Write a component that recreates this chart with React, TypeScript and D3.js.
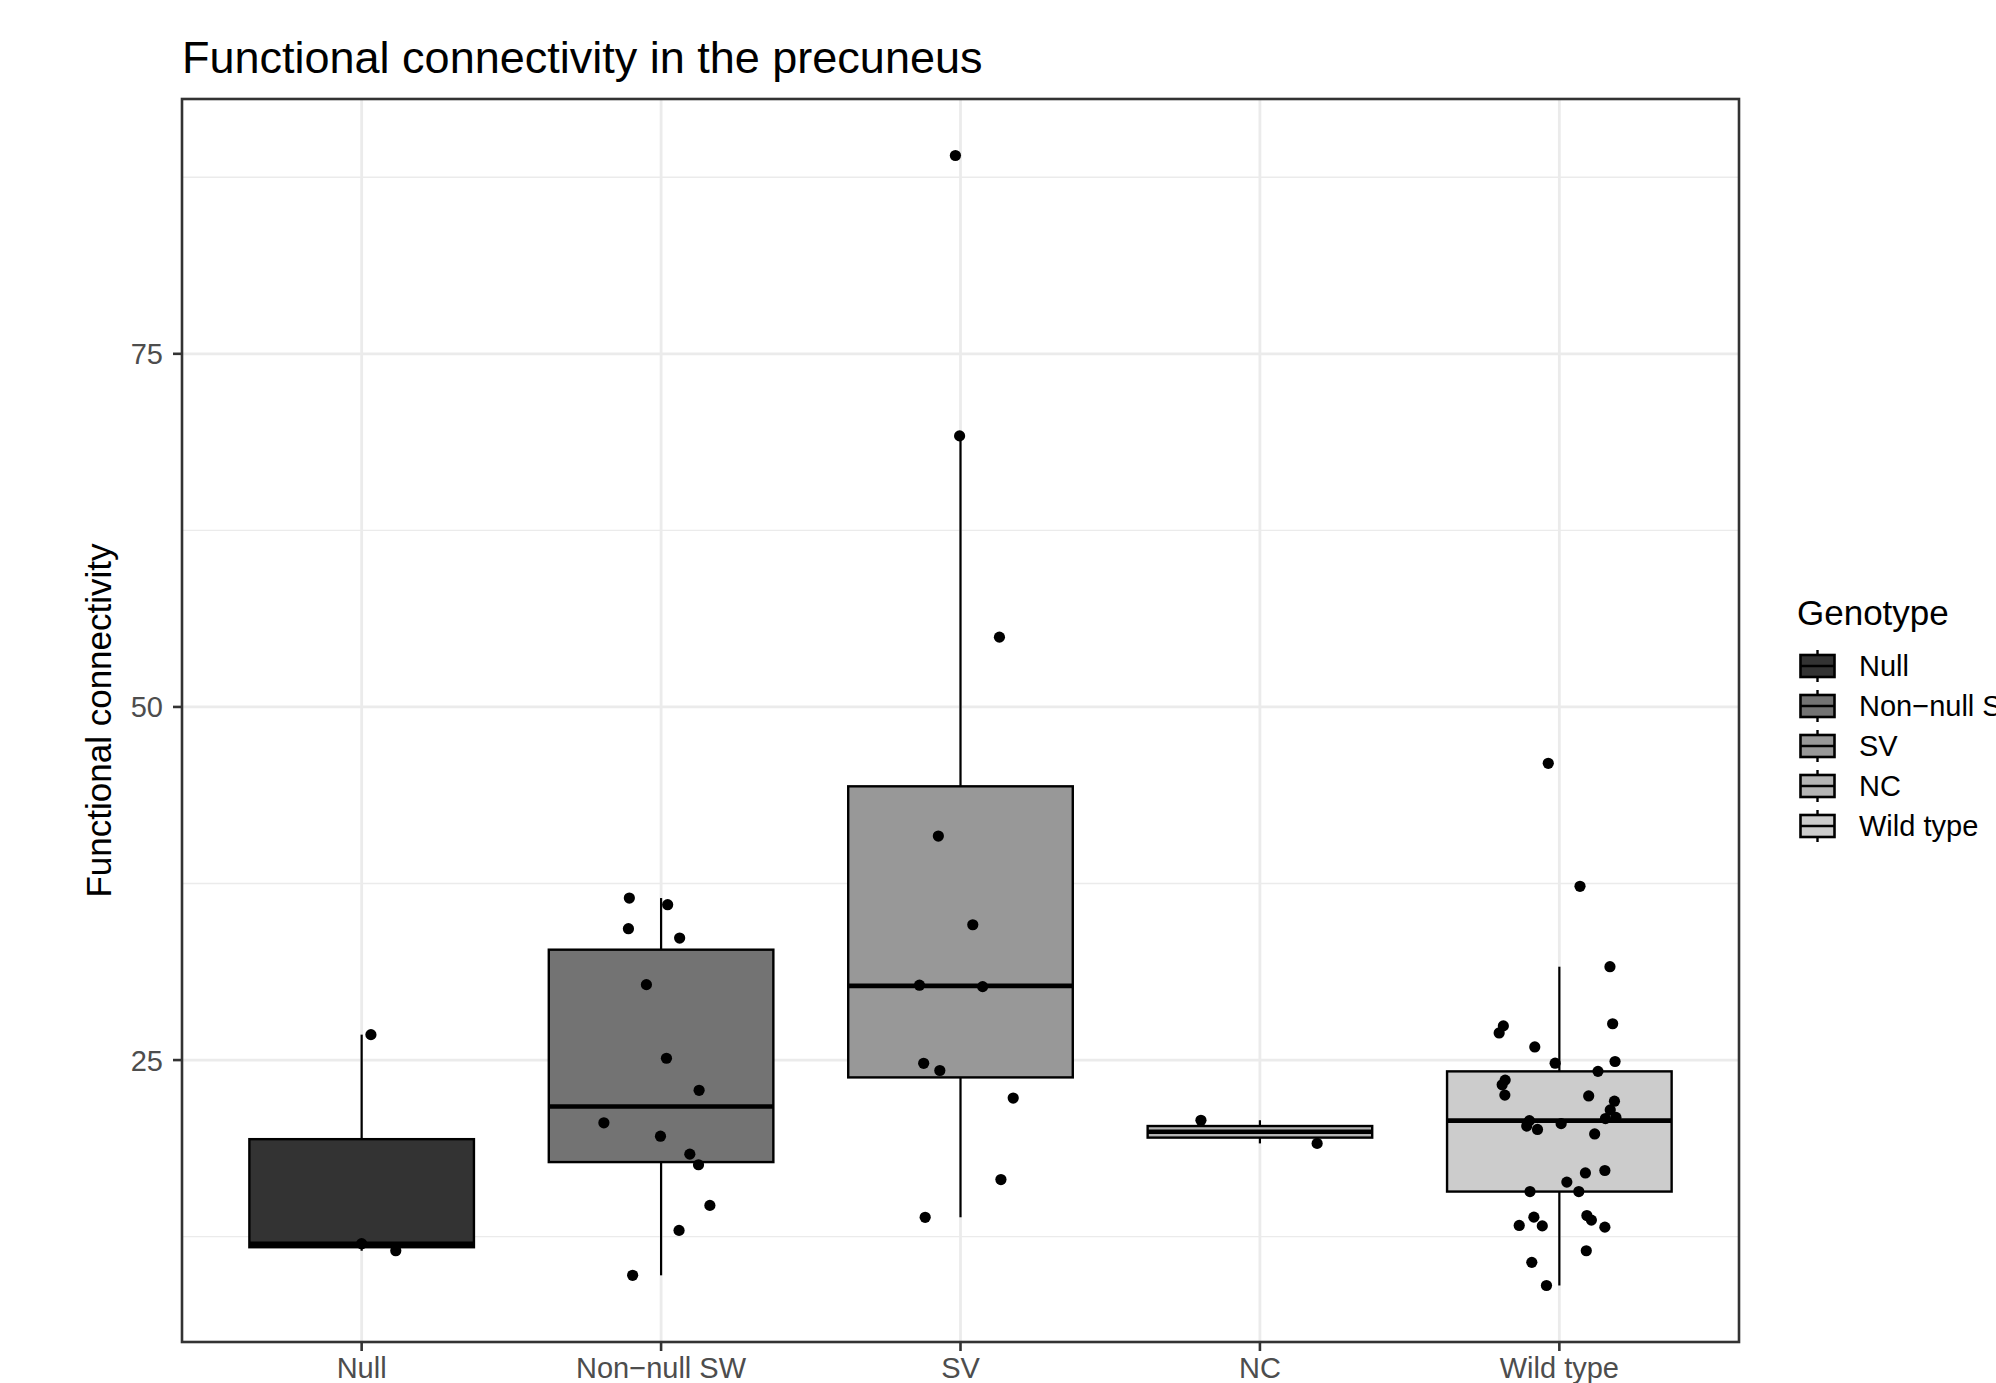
import React, {useEffect, useRef} from 'react';
import * as d3 from 'd3';

// categories and their grey fills (scale_fill_grey look)
const genotypes = ['Null', 'Non\u2212null SW', 'SV', 'NC', 'Wild type'];
const fills = ['#333333', '#737373', '#989898', '#B4B4B4', '#CCCCCC'];

// values; jitter is the horizontal offset in category units
const nullValues = [26.8, 12.0, 11.5];
const nullJitter = [0.031, 0.0, 0.114];

const nonNullValues = [36.47, 36.0, 34.3, 33.64, 30.34, 25.13, 22.86, 20.56, 19.61, 18.34, 17.59, 14.71, 12.94, 9.76];
const nonNullJitter = [-0.106, 0.022, -0.109, 0.062, -0.049, 0.018, 0.127, -0.191, -0.002, 0.096, 0.125, 0.163, 0.06, -0.095];

const svValues = [89.04, 69.19, 54.94, 40.86, 34.58, 30.3, 30.2, 24.77, 24.26, 22.31, 16.54, 13.87];
const svJitter = [-0.017, -0.003, 0.13, -0.074, 0.041, -0.137, 0.074, -0.123, -0.069, 0.176, 0.135, -0.118];

const ncValues = [20.74, 19.1];
const ncJitter = [-0.197, 0.191];

const wildValues = [46.01, 37.3, 31.61, 27.42, 26.92, 27.57, 25.93, 24.78, 24.9, 24.2, 23.58, 23.25, 22.52, 22.46,
	22.09, 21.47, 20.86, 20.94, 20.71, 20.33, 20.09, 20.5, 19.77, 17.18, 17.01, 16.36, 15.69, 15.69, 13.88, 13.99,
	13.67, 13.29, 13.26, 13.17, 11.5, 10.68, 9.04];
const wildJitter = [-0.037, 0.069, 0.169, -0.187, -0.201, 0.178, -0.082, -0.014, 0.186, 0.129, -0.181, -0.191, -0.182, 0.098,
	0.184, 0.17, 0.154, 0.189, -0.1, -0.109, -0.073, 0.006, 0.118, 0.152, 0.087, 0.025, -0.098, 0.065, -0.085, 0.092,
	0.107, -0.134, -0.057, 0.152, 0.09, -0.092, -0.043];

const seriesValues = [nullValues, nonNullValues, svValues, ncValues, wildValues];
const seriesJitter = [nullJitter, nonNullJitter, svJitter, ncJitter, wildJitter];

const majorTicks = [25, 50, 75];
const minorTicks = [12.5, 37.5, 62.5, 87.5];

const FONT = '"Liberation Sans", Arial, Helvetica, sans-serif';

function boxStats(values: number[]) {
	const s = values.slice().sort(d3.ascending);
	const q1 = d3.quantileSorted(s, 0.25)!;
	const med = d3.quantileSorted(s, 0.5)!;
	const q3 = d3.quantileSorted(s, 0.75)!;
	const iqr = q3 - q1;
	const inside = s.filter(v => v >= q1 - 1.5 * iqr && v <= q3 + 1.5 * iqr);
	return {q1, med, q3, lo: d3.min(inside)!, hi: d3.max(inside)!};
}

export default function App() {
	const svgRef = useRef<SVGSVGElement>(null);

	useEffect(() => {
		const svg = d3.select(svgRef.current);
		svg.selectAll('*').remove();

		const left = 182, right = 1739, top = 99, bottom = 1342;

		const all = seriesValues.flat();
		const [lo, hi] = d3.extent(all) as [number, number];
		const pad = (hi - lo) * 0.05; // ggplot default expansion
		const y = d3.scaleLinear().domain([lo - pad, hi + pad]).range([bottom, top]);
		const x = d3.scalePoint<string>().domain(genotypes).range([left, right]).padding(0.6);
		const step = x.step();
		const boxW = step * 0.75;

		// grid
		const grid = svg.append('g');
		grid.selectAll('line.minor').data(minorTicks).enter().append('line')
			.attr('x1', left).attr('x2', right)
			.attr('y1', d => y(d)).attr('y2', d => y(d))
			.attr('stroke', '#EBEBEB').attr('stroke-width', 1.4);
		grid.selectAll('line.majorY').data(majorTicks).enter().append('line')
			.attr('x1', left).attr('x2', right)
			.attr('y1', d => y(d)).attr('y2', d => y(d))
			.attr('stroke', '#EBEBEB').attr('stroke-width', 2.8);
		grid.selectAll('line.majorX').data(genotypes).enter().append('line')
			.attr('x1', d => x(d)!).attr('x2', d => x(d)!)
			.attr('y1', top).attr('y2', bottom)
			.attr('stroke', '#EBEBEB').attr('stroke-width', 2.8);

		// boxes
		const boxes = svg.append('g');
		genotypes.forEach((g, i) => {
			const st = boxStats(seriesValues[i]);
			const cx = x(g)!;
			const grp = boxes.append('g');
			grp.append('line').attr('x1', cx).attr('x2', cx).attr('y1', y(st.q3)).attr('y2', y(st.hi))
				.attr('stroke', '#000').attr('stroke-width', 2.2);
			grp.append('line').attr('x1', cx).attr('x2', cx).attr('y1', y(st.q1)).attr('y2', y(st.lo))
				.attr('stroke', '#000').attr('stroke-width', 2.2);
			grp.append('rect')
				.attr('x', cx - boxW / 2).attr('width', boxW)
				.attr('y', y(st.q3)).attr('height', y(st.q1) - y(st.q3))
				.attr('fill', fills[i]).attr('stroke', '#000').attr('stroke-width', 2.4);
			grp.append('line').attr('x1', cx - boxW / 2).attr('x2', cx + boxW / 2)
				.attr('y1', y(st.med)).attr('y2', y(st.med))
				.attr('stroke', '#000').attr('stroke-width', 4.6);
		});

		// jittered points
		const pts = svg.append('g');
		genotypes.forEach((g, i) => {
			pts.selectAll(null).data(seriesValues[i]).enter().append('circle')
				.attr('cx', (d, j) => x(g)! + seriesJitter[i][j] * step)
				.attr('cy', d => y(d))
				.attr('r', 5.6)
				.attr('fill', '#000');
		});

		// panel border
		svg.append('rect').attr('x', left).attr('y', top)
			.attr('width', right - left).attr('height', bottom - top)
			.attr('fill', 'none').attr('stroke', '#333333').attr('stroke-width', 2.6);

		// y axis
		const yAxis = svg.append('g');
		yAxis.selectAll('line').data(majorTicks).enter().append('line')
			.attr('x1', left - 9).attr('x2', left)
			.attr('y1', d => y(d)).attr('y2', d => y(d))
			.attr('stroke', '#333333').attr('stroke-width', 2.6);
		yAxis.selectAll('text').data(majorTicks).enter().append('text')
			.attr('x', left - 19).attr('y', d => y(d))
			.attr('dy', '0.36em')
			.attr('text-anchor', 'end')
			.attr('font-family', FONT).attr('font-size', 29).attr('fill', '#4D4D4D')
			.text(d => d);

		// x axis
		const xAxis = svg.append('g');
		xAxis.selectAll('line').data(genotypes).enter().append('line')
			.attr('x1', d => x(d)!).attr('x2', d => x(d)!)
			.attr('y1', bottom).attr('y2', bottom + 9)
			.attr('stroke', '#333333').attr('stroke-width', 2.6);
		xAxis.selectAll('text').data(genotypes).enter().append('text')
			.attr('x', d => x(d)!).attr('y', 1378)
			.attr('text-anchor', 'middle')
			.attr('font-family', FONT).attr('font-size', 29).attr('fill', '#4D4D4D')
			.text(d => d);

		// titles
		svg.append('text').attr('x', left).attr('y', 73)
			.attr('font-family', FONT).attr('font-size', 45).attr('fill', '#000')
			.text('Functional connectivity in the precuneus');
		svg.append('text')
			.attr('transform', `translate(111,${(top + bottom) / 2}) rotate(-90)`)
			.attr('text-anchor', 'middle')
			.attr('font-family', FONT).attr('font-size', 35).attr('fill', '#000')
			.text('Functional connectivity');

		// legend (the long label runs off the right edge, as in the original)
		const legend = svg.append('g');
		legend.append('text').attr('x', 1797).attr('y', 625)
			.attr('font-family', FONT).attr('font-size', 35).attr('fill', '#000')
			.text('Genotype');
		const keyX = 1817.5, keyY0 = 666, keyStep = 40;
		genotypes.forEach((g, i) => {
			const cy = keyY0 + i * keyStep;
			const k = legend.append('g');
			k.append('line').attr('x1', keyX).attr('x2', keyX).attr('y1', cy - 16).attr('y2', cy + 16)
				.attr('stroke', '#000').attr('stroke-width', 2.4);
			k.append('rect').attr('x', keyX - 17).attr('y', cy - 11).attr('width', 34).attr('height', 22)
				.attr('fill', fills[i]).attr('stroke', '#000').attr('stroke-width', 2.6);
			k.append('line').attr('x1', keyX - 17).attr('x2', keyX + 17).attr('y1', cy).attr('y2', cy)
				.attr('stroke', '#000').attr('stroke-width', 2.6);
			k.append('text').attr('x', 1859).attr('y', cy).attr('dy', '0.36em')
				.attr('font-family', FONT).attr('font-size', 29).attr('fill', '#000')
				.text(g);
		});
	}, []);

	return (
		<svg ref={svgRef} width={1996} height={1383}
			style={{position: 'absolute', left: 0, top: 0, background: '#fff', display: 'block'}}/>
	);
}
